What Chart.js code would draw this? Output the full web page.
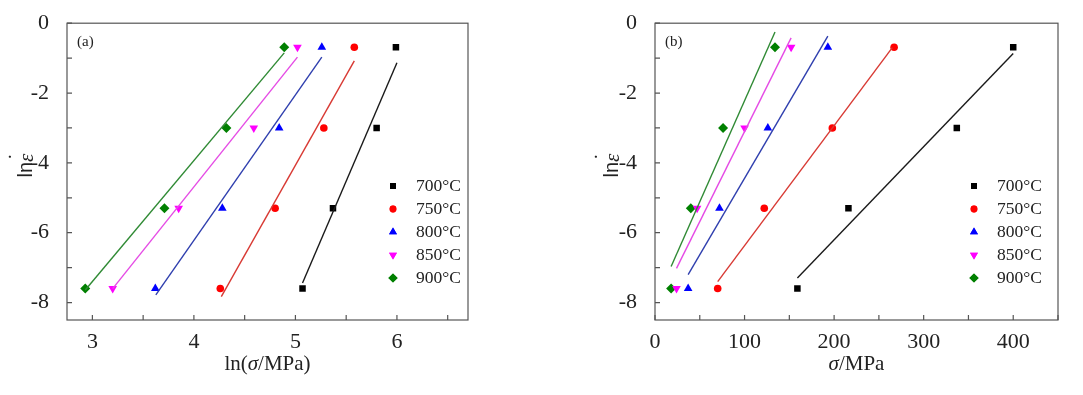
<!DOCTYPE html>
<html>
<head>
<meta charset="utf-8">
<script src="https://cdn.jsdelivr.net/npm/chart.js@4.4.1/dist/chart.umd.min.js"></script>
<style>
  body { margin: 0; background: #fff; }
  #wrap { position: relative; width: 1083px; height: 395px; }
  .box { position: absolute; top: 0; height: 395px; }
</style>
</head>
<body>
<div id="wrap">
  <div class="box" style="left:0;width:540px"><canvas id="chartA"></canvas></div>
  <div class="box" style="left:540px;width:543px"><canvas id="chartB"></canvas></div>
</div>
<script>
// strain rate levels (ln of strain rate), shared by every series
const lnRate = [-0.69, -3.0, -5.3, -7.6];
const temps = ["700°C", "750°C", "800°C", "850°C", "900°C"];

// (a) ln(sigma) values for each temperature
const lnSig700 = [5.99, 5.80, 5.37, 5.07];
const lnSig750 = [5.58, 5.28, 4.80, 4.26];
const lnSig800 = [5.26, 4.84, 4.28, 3.62];
const lnSig850 = [5.02, 4.59, 3.85, 3.20];
const lnSig900 = [4.89, 4.32, 3.71, 2.93];

// (a) fitted line end points [x0, x1], [y0, y1]
const fitA700 = [[5.07, 6.0], [-7.44, -1.13]];
const fitA750 = [[4.27, 5.58], [-7.83, -1.08]];
const fitA800 = [[3.625, 5.26], [-7.78, -0.97]];
const fitA850 = [[3.2, 5.02], [-7.6, -0.97]];
const fitA900 = [[2.93, 4.89], [-7.64, -0.85]];

// (b) sigma values (MPa)
const sig700 = [400, 337, 216, 159];
const sig750 = [267, 198, 122, 70];
const sig800 = [193, 126, 72, 37];
const sig850 = [152, 100, 47, 24];
const sig900 = [134, 76, 40, 18];

// (b) fitted lines
const fitB700 = [[159, 400], [-7.30, -0.87]];
const fitB750 = [[70, 265], [-7.40, -0.70]];
const fitB800 = [[37, 193], [-7.20, -0.37]];
const fitB850 = [[24, 152], [-7.02, -0.42]];
const fitB900 = [[18, 134], [-6.97, -0.25]];

const xTicksA = [3, 4, 5, 6];
const xTicksB = [0, 100, 200, 300, 400];
const yTicks = [0, -2, -4, -6, -8];

const pointColors = ["#000000", "#ff0000", "#0000ff", "#ff00ff", "#008000"];
const lineColors = ["#1a1a1a", "#d83a34", "#2f3fae", "#e54be5", "#2f8a34"];
const styles = [
  { pointStyle: "rect", radius: 4.6, rotation: 0 },
  { pointStyle: "circle", radius: 3.8, rotation: 0 },
  { pointStyle: "triangle", radius: 5, rotation: 0 },
  { pointStyle: "triangle", radius: 5, rotation: 180 },
  { pointStyle: "rectRot", radius: 5, rotation: 0 },
];

const serif = "'Liberation Serif', 'Times New Roman', serif";
const sans = "'Liberation Sans', Arial, sans-serif";

function makeDatasets(xs, fits) {
  const sets = [];
  fits.forEach((f, i) => {
    sets.push({
      type: "line",
      data: f[0].map((x, k) => ({ x: x, y: f[1][k] })),
      borderColor: lineColors[i],
      borderWidth: 1.4,
      pointRadius: 0,
      fill: false,
      isFit: true,
    });
  });
  xs.forEach((arr, i) => {
    sets.push({
      type: "scatter",
      label: temps[i],
      data: arr.map((x, k) => ({ x: x, y: lnRate[k] })),
      backgroundColor: pointColors[i],
      borderColor: pointColors[i],
      borderWidth: 0,
      pointStyle: styles[i].pointStyle,
      pointRadius: styles[i].radius,
      pointRotation: styles[i].rotation,
      pointHoverRadius: styles[i].radius,
    });
  });
  return sets;
}

// frame, inward ticks, axis titles, legend and panel tag
const decor = {
  id: "decor",
  afterDraw(chart, args, o) {
    const ctx = chart.ctx;
    const a = chart.chartArea;
    const xs = chart.scales.x, ys = chart.scales.y;
    ctx.save();
    ctx.strokeStyle = "#555";
    ctx.lineWidth = 1.2;
    ctx.strokeRect(a.left, a.top, a.right - a.left, a.bottom - a.top);
    ctx.beginPath();
    xs.ticks.forEach(t => {
      const p = xs.getPixelForValue(t.value);
      ctx.moveTo(p, a.bottom);
      ctx.lineTo(p, a.bottom - 5);
    });
    ys.ticks.forEach(t => {
      const p = ys.getPixelForValue(t.value);
      ctx.moveTo(a.left, p);
      ctx.lineTo(a.left + 5, p);
    });
    ctx.stroke();

    // x title
    ctx.fillStyle = "#222";
    ctx.textBaseline = "middle";
    const parts = o.xTitle;
    let w = 0;
    parts.forEach(p => { ctx.font = p[1]; w += ctx.measureText(p[0]).width; });
    let x = (a.left + a.right) / 2 - w / 2;
    ctx.textAlign = "left";
    parts.forEach(p => { ctx.font = p[1]; ctx.fillText(p[0], x, o.xTitleY); x += ctx.measureText(p[0]).width; });

    // y title, rotated: "ln" + italic epsilon with a dot above
    ctx.save();
    ctx.translate(o.yTitleX, (a.top + a.bottom) / 2 - 6);
    ctx.rotate(-Math.PI / 2);
    ctx.font = "20px " + sans;
    const wl = ctx.measureText("ln").width;
    ctx.font = "italic 21px " + serif;
    const we = ctx.measureText("ε").width;
    x = -(wl + we) / 2;
    ctx.font = "20px " + sans;
    ctx.fillText("ln", x, 0);
    ctx.font = "italic 21px " + serif;
    ctx.fillText("ε", x + wl, 1);
    ctx.textAlign = "center";
    ctx.font = "21px " + serif;
    ctx.fillText("˙", x + wl + we / 2 + 1, -9);
    ctx.restore();

    // panel tag
    ctx.textAlign = "left";
    ctx.font = "15px " + serif;
    ctx.fillText(o.tag, o.tagX, 42);

    // legend
    const sets = chart.data.datasets.filter(d => !d.isFit);
    sets.forEach((d, i) => {
      const yy = o.legendY + i * 23;
      ctx.fillStyle = d.backgroundColor;
      Chart.helpers.drawPoint(ctx, {
        pointStyle: d.pointStyle, radius: d.pointRadius - 0.4, rotation: d.pointRotation, borderWidth: 0,
      }, o.legendX, yy);
      ctx.fill();
      ctx.fillStyle = "#222";
      ctx.font = "17.5px " + serif;
      ctx.fillText(d.label, o.legendX + 23, yy);
    });
    ctx.restore();
  },
};

function makeChart(id, sets, xMin, xMax, xStep, xLabels, yAxisW, padRight, deco) {
  return new Chart(document.getElementById(id), {
    data: { datasets: sets },
    plugins: [decor],
    options: {
      responsive: true,
      maintainAspectRatio: false,
      animation: false,
      events: [],
      layout: { padding: { top: 22, right: padRight, left: 0, bottom: 0 } },
      plugins: { legend: { display: false }, tooltip: { enabled: false }, decor: deco },
      scales: {
        x: {
          type: "linear",
          min: xMin, max: xMax,
          grid: { display: false },
          border: { display: false },
          ticks: {
            stepSize: xStep,
            includeBounds: false,
            padding: 1,
            color: "#222",
            font: { family: serif, size: 22 },
            maxRotation: 0,
            autoSkip: false,
            callback: v => xLabels.includes(v) ? String(v) : "",
          },
          afterFit: s => { s.height = 75; },
        },
        y: {
          type: "linear",
          min: -8.5, max: 0,
          grid: { display: false },
          border: { display: false },
          ticks: {
            stepSize: 1,
            includeBounds: false,
            padding: 10,
            color: "#222",
            font: { family: serif, size: 22 },
            autoSkip: false,
            callback: v => yTicks.includes(v) ? String(v) : "",
          },
          afterFit: s => { s.width = yAxisW; },
        },
      },
    },
  });
}

makeChart("chartA",
  makeDatasets([lnSig700, lnSig750, lnSig800, lnSig850, lnSig900], [fitA700, fitA750, fitA800, fitA850, fitA900]),
  2.75, 6.7, 0.5, xTicksA, 67, 72,
  {
    xTitle: [["ln(", "21px " + serif], ["σ", "italic 21px " + serif], ["/MPa)", "21px " + serif]],
    xTitleY: 364, yTitleX: 26, tag: "(a)", tagX: 77,
    legendX: 393, legendY: 186,
  });

makeChart("chartB",
  makeDatasets([sig700, sig750, sig800, sig850, sig900], [fitB700, fitB750, fitB800, fitB850, fitB900]),
  0, 450, 50, xTicksB, 115, 25,
  {
    xTitle: [["σ", "italic 21px " + serif], ["/MPa", "21px " + serif]],
    xTitleY: 364, yTitleX: 72, tag: "(b)", tagX: 125,
    legendX: 434, legendY: 186,
  });
</script>
</body>
</html>
